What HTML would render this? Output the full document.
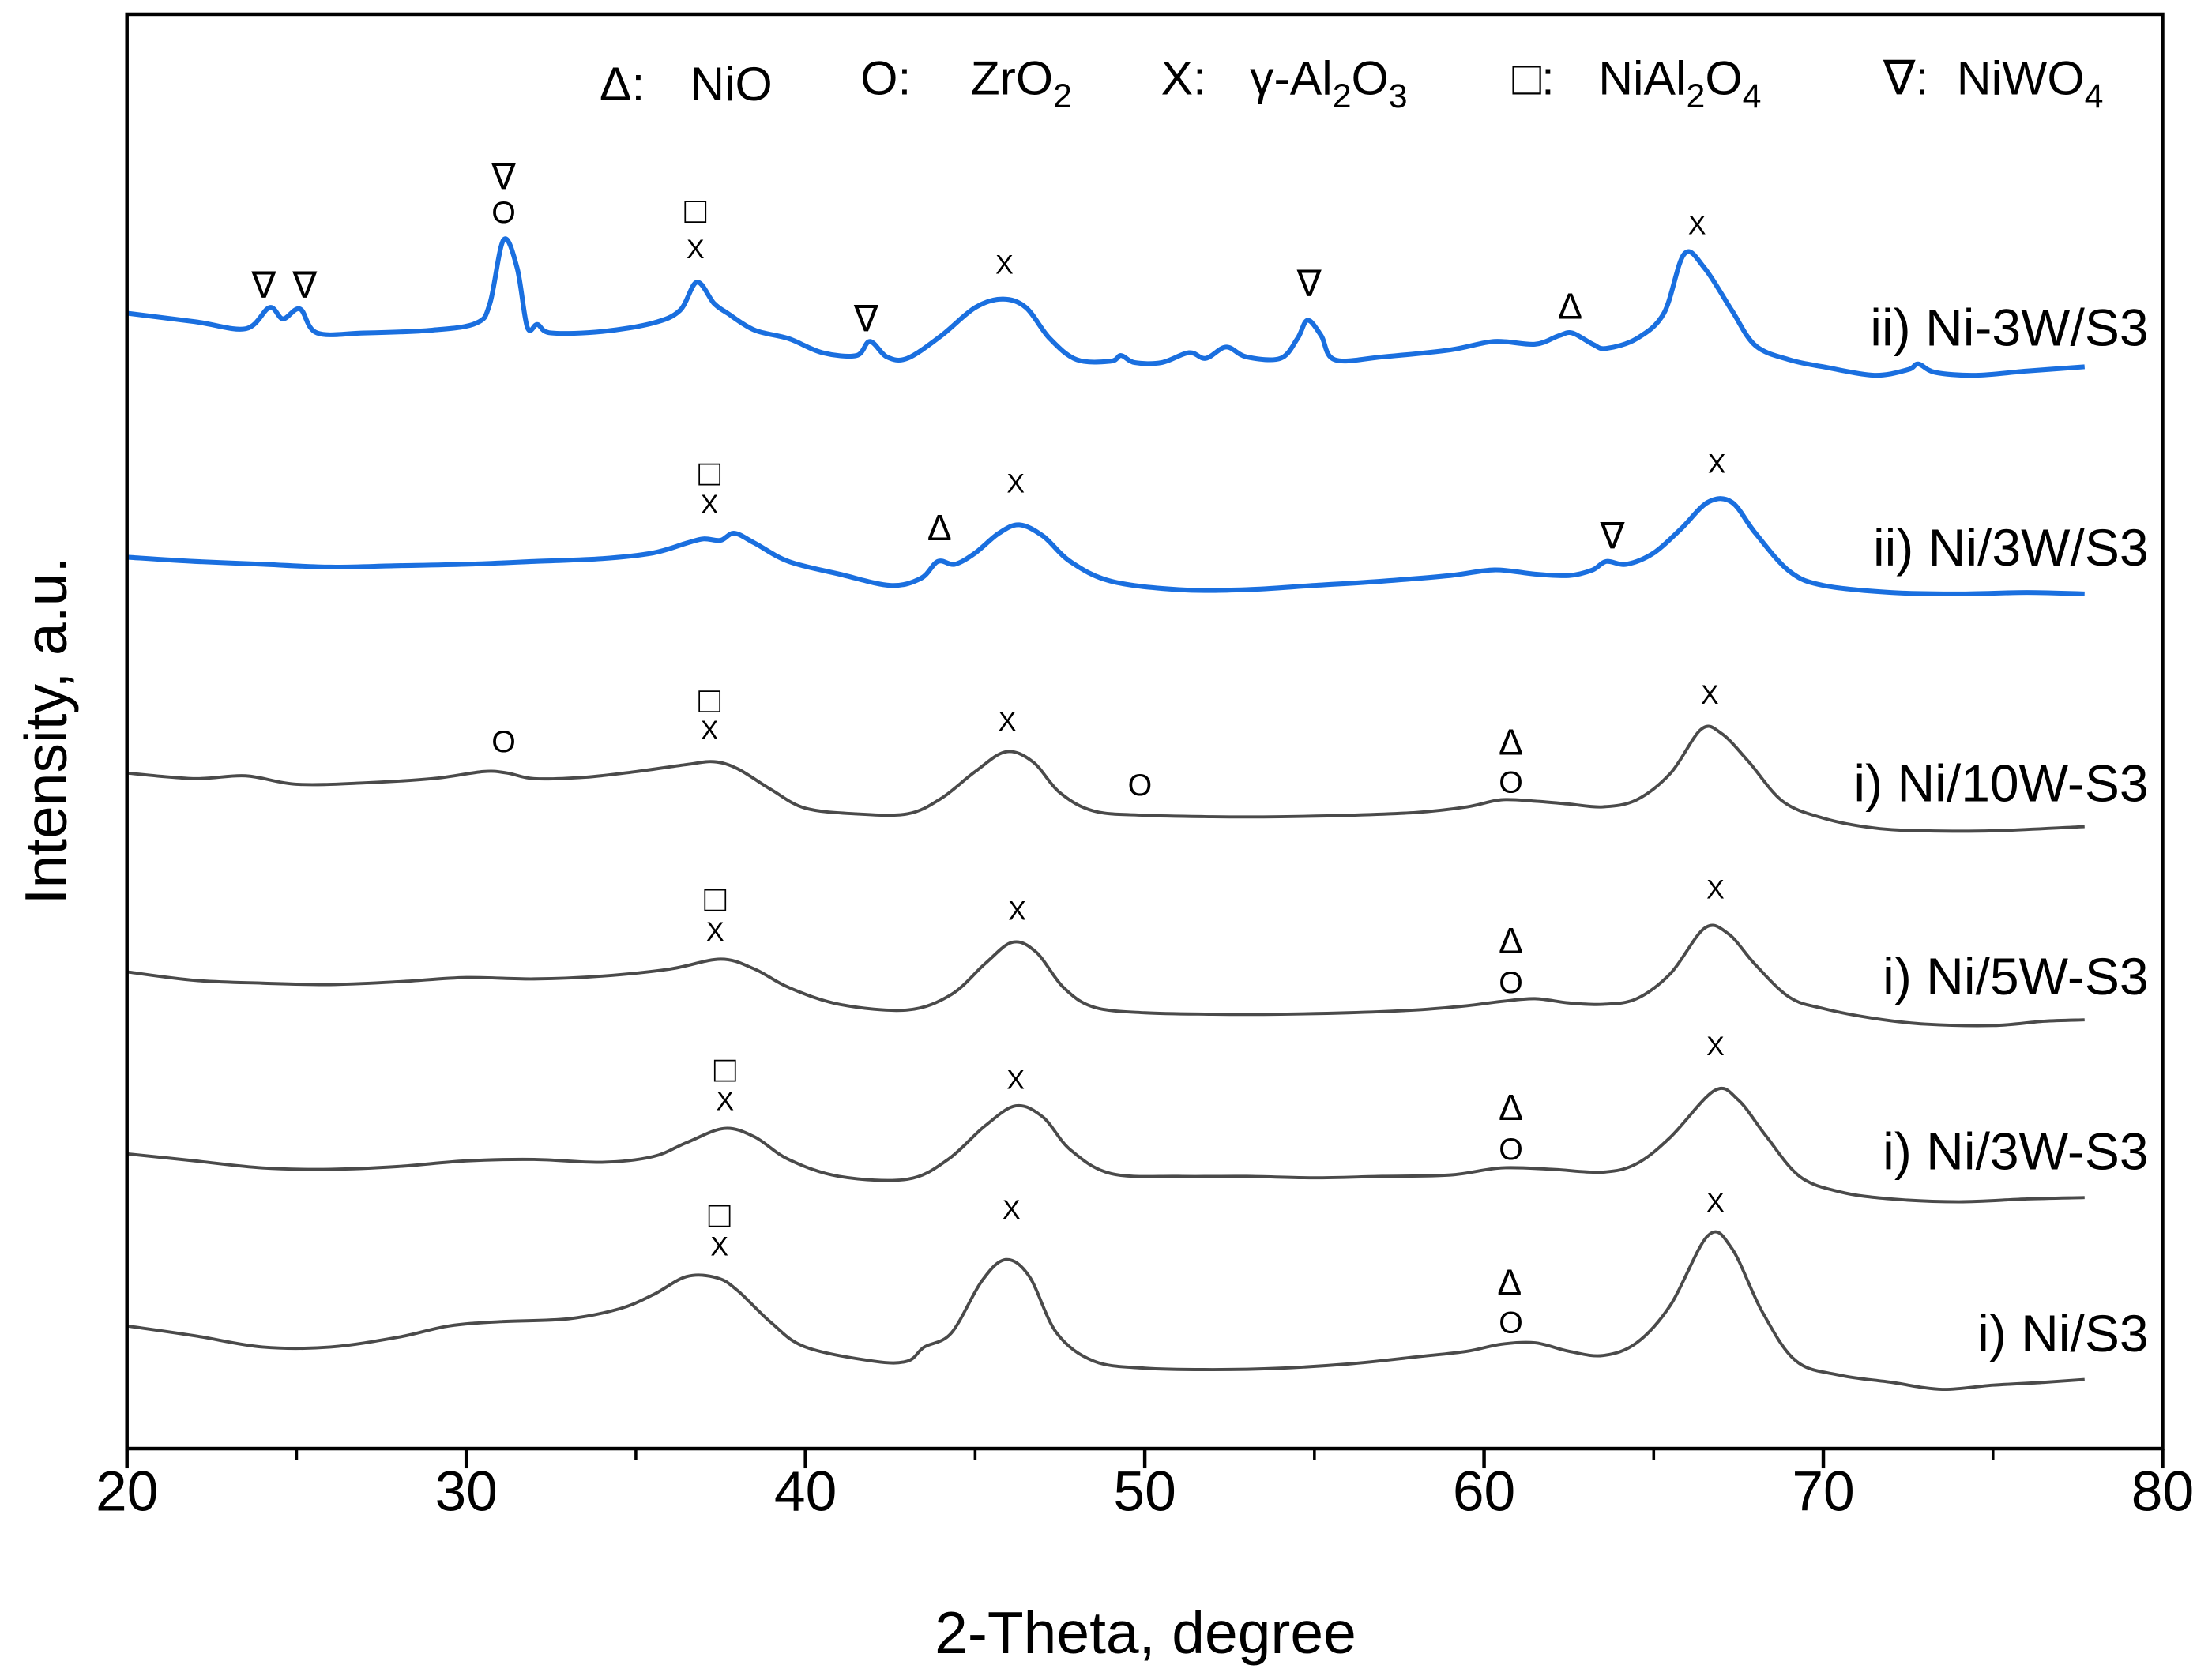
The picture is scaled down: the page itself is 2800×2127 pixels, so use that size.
<!DOCTYPE html>
<html><head><meta charset="utf-8"><style>
html,body{margin:0;padding:0;background:#fff;}
svg{display:block;}
text{font-family:"Liberation Sans","DejaVu Sans",sans-serif;fill:#000;}
</style></head><body>
<svg id="chart" width="2800" height="2127" viewBox="0 0 1568 1191" xmlns="http://www.w3.org/2000/svg">
<rect x="0" y="0" width="1568" height="1191" fill="#fff"/>
<g id="plot"></g>
</svg>
<script>
const xTicks = [20, 30, 40, 50, 60, 70, 80];
const xMinorTicks = [25, 35, 45, 55, 65, 75];
const seriesNames = ["ii) Ni-3W/S3", "ii) Ni/3W/S3", "i) Ni/10W-S3", "i) Ni/5W-S3", "i) Ni/3W-S3", "i) Ni/S3"];
const seriesColors = ["#1a6fdf", "#1a6fdf", "#4a4a4a", "#4a4a4a", "#4a4a4a", "#4a4a4a"];
const s1x = [20,22,23.5,24.2,24.6,25.1,25.6,27,29,30.3,30.7,31.1,31.5,31.8,32.1,32.5,34,35.5,36.3,36.8,37.3,37.7,38.5,39.5,40.5,41.5,41.9,42.4,43,44,45,45.8,46.5,47.2,48,49,49.3,49.7,50.5,51.3,51.8,52.4,53,54,54.5,54.8,55.2,55.6,57,59,60.3,61.5,62.2,62.6,63.2,63.6,64.5,65.3,65.9,66.5,67.3,68,69,70,71.5,72.5,72.8,73.3,74.5,76,77.7];
const s1y = [805,799,794,809,801,808,791,791,793,798,812,857,837,795,797,791,792,798,807,827,812,805,793,787,777,775,785,774,773,789,809,815,809,787,772,771,775,770,770,777,773,781,774,773,787,800,789,772,774,779,785,783,789,791,783,780,787,805,847,837,807,782,772,767,761,765,769,763,761,764,767];
const s2x = [20,22,24,26,28,30,32,34,35.5,36.5,37,37.5,37.9,38.5,39.5,41,42.5,43.4,43.9,44.4,45,45.7,46.3,47,47.8,49,51,53,55,57,59,60.3,61.5,62.5,63.2,63.6,64.2,65,65.8,66.6,67.3,68,69,70,72,74,76,77.7];
const s2y = [632,629,627,625,626,627,629,631,635,642,645,644,649,642,629,620,612,617,629,627,635,649,655,647,629,615,609,609,612,615,619,623,620,619,623,629,627,635,652,671,671,649,622,612,607,606,607,606];
const s3x = [20,22,23.5,25,27,29,30.5,31.2,32,33.5,35,36.5,37.3,38,39,40,41.5,43,44,45,45.9,46.7,47.5,48.5,50,52,54,56,58,59.5,60.5,61.5,62.5,63.5,64.5,65.5,66.4,67,67.8,68.8,70,71.5,73,75,77.7];
const s3y = [479,475,477,471,472,475,480,479,475,476,480,485,487,482,467,454,450,450,461,480,494,487,465,452,449,448,448,449,451,455,460,459,457,455,460,479,510,507,487,459,447,440,438,438,441];
const s4x = [20,22,24,26,28,30,32,34,36,37.5,38.5,39.5,41,43,44.3,45.3,46.1,46.8,47.6,48.5,50,52,54,56,58,59.5,60.5,61.5,62.5,63.5,64.5,65.5,66.5,67.2,68,69,70,71.5,73,75,76.5,77.7];
const s4y = [338,332,330,329,331,334,333,335,340,347,340,327,315,311,322,344,359,352,327,313,309,308,308,309,311,314,317,319,316,315,319,337,369,365,343,320,312,305,301,300,303,304];
const s5x = [20,22,24,26,28,30,32,34,35.5,36.5,37.6,38.5,39.5,41,43,44.2,45.3,46.2,47,47.8,49,51,53,55,57,59,60.5,62,63.5,64.5,65.5,66.8,67.5,68.3,69.3,70.5,72,74,76,77.7];
const s5y = [209,204,199,198,200,204,205,203,207,217,227,221,205,193,191,205,229,243,235,212,195,193,193,192,193,194,199,198,196,202,221,254,247,222,193,182,177,175,177,178];
const s6x = [20,22,24,26,28,29.5,31,33,34.5,35.5,36.5,37.4,38,39,40,42,43,43.5,44.3,45.2,45.9,46.6,47.4,48.5,50,52,54,56,58,59.5,60.5,61.5,62.5,63.5,64.5,65.5,66.6,67.3,68.2,69.2,70.5,72,73.5,75,76.5,77.7];
const s6y = [87,80,72,72,79,87,90,92,99,109,122,121,112,89,72,62,62,72,82,119,134,122,82,62,57,56,57,60,65,69,74,75,69,66,75,102,151,142,97,62,52,47,42,45,47,49];
const seriesX = [s1x, s2x, s3x, s4x, s5x, s6x];
const seriesY = [s1y, s2y, s3y, s4y, s5y, s6y];

const L = 90, R = 1533, T = 10, B = 1027;
function xs(t){ return L + (t - 20) / 60 * (R - L); }
function ys(v){ return B - v; }
const NS = "http://www.w3.org/2000/svg";
const g = document.getElementById("plot");
function mk(tag, attrs, parent){
  const e = document.createElementNS(NS, tag);
  for (const k in attrs) e.setAttribute(k, attrs[k]);
  (parent || g).appendChild(e);
  return e;
}
function smoothPath(pts){
  let d = "M" + pts[0][0].toFixed(1) + " " + pts[0][1].toFixed(1);
  for (let i = 0; i < pts.length - 1; i++) {
    const p0 = pts[i - 1] || pts[i], p1 = pts[i], p2 = pts[i + 1], p3 = pts[i + 2] || p2;
    const c1x = p1[0] + (p2[0] - p0[0]) / 6, c1y = p1[1] + (p2[1] - p0[1]) / 6;
    const c2x = p2[0] - (p3[0] - p1[0]) / 6, c2y = p2[1] - (p3[1] - p1[1]) / 6;
    d += " C" + c1x.toFixed(1) + " " + c1y.toFixed(1) + " " + c2x.toFixed(1) + " " + c2y.toFixed(1) + " " + p2[0].toFixed(1) + " " + p2[1].toFixed(1);
  }
  return d;
}

seriesX.forEach((xa, i) => {
  const pts = xa.map((t, j) => [xs(t), ys(seriesY[i][j])]);
  const p = mk("path", {d: smoothPath(pts), fill: "none", stroke: seriesColors[i], "stroke-width": i < 2 ? 3.4 : 2.2, "stroke-linejoin": "round"});
  
  
});

const fr = mk("rect", {x: L, y: T, width: R - L, height: B - T, fill: "none", stroke: "#000", "stroke-width": 2.5});



xTicks.forEach(t => {
  const ln = mk("line", {x1: xs(t), x2: xs(t), y1: B, y2: B + 14, stroke: "#000", "stroke-width": 2.5});
  
  
  const tx = mk("text", {x: xs(t), y: 1071, "text-anchor": "middle", "font-size": 40});
  tx.textContent = t;
  
  
});
xMinorTicks.forEach(t => {
  const ln = mk("line", {x1: xs(t), x2: xs(t), y1: B, y2: B + 8, stroke: "#000", "stroke-width": 2});
  
  
});

const xt = mk("text", {x: 812, y: 1172, "text-anchor": "middle", "font-size": 42});
xt.textContent = "2-Theta, degree";


const yt = mk("text", {x: 0, y: 0, "text-anchor": "middle", "font-size": 42, transform: "translate(47,518) rotate(-90)"});
yt.textContent = "Intensity, a.u.";



const labelY = [245, 401, 568, 705, 829, 958];
seriesNames.forEach((n, i) => {
  const tx = mk("text", {x: 1523, y: labelY[i], "text-anchor": "end", "font-size": 37});
  tx.textContent = n;
  
  
});
</script>
<svg style="position:absolute;left:0;top:0" width="2800" height="2127" viewBox="0 0 1568 1191">
<g font-size="34" font-family="Liberation Sans, DejaVu Sans, sans-serif">
<text y="71"><tspan x="425">Δ:</tspan><tspan x="489">NiO</tspan></text>
<text y="67"><tspan x="610">O:</tspan><tspan x="688">ZrO</tspan><tspan font-size="24" dy="9">2</tspan></text>
<text y="67"><tspan x="823">X:</tspan><tspan x="886">γ-Al</tspan><tspan font-size="24" dy="9">2</tspan><tspan dy="-9">O</tspan><tspan font-size="24" dy="9">3</tspan></text>
<text y="67"><tspan x="1072">□:</tspan><tspan x="1133">NiAl</tspan><tspan font-size="24" dy="9">2</tspan><tspan dy="-9">O</tspan><tspan font-size="24" dy="9">4</tspan></text>
<text y="67"><tspan x="1335">∇:</tspan><tspan x="1387">NiWO</tspan><tspan font-size="24" dy="9">4</tspan></text>
</g>
<g font-family="DejaVu Sans, sans-serif" text-anchor="middle" font-size="26">
<text x="187" y="211">∇</text><text x="216" y="211">∇</text><text x="357" y="134">∇</text><text x="357" y="158" font-size="22">O</text>
<text x="493" y="158">□</text><text x="493" y="183" font-size="19">X</text><text x="614" y="235">∇</text><text x="712" y="194" font-size="19">X</text>
<text x="928" y="210">∇</text><text x="1113" y="226">Δ</text><text x="1203" y="166" font-size="19">X</text>
<text x="503" y="344">□</text><text x="503" y="364" font-size="19">X</text><text x="666" y="383">Δ</text><text x="720" y="349" font-size="19">X</text>
<text x="1143" y="389">∇</text><text x="1217" y="335" font-size="19">X</text>
<text x="357" y="533" font-size="22">O</text><text x="503" y="505">□</text><text x="503" y="524" font-size="19">X</text><text x="714" y="518" font-size="19">X</text>
<text x="808" y="564" font-size="22">O</text><text x="1071" y="535">Δ</text><text x="1071" y="562" font-size="22">O</text><text x="1212" y="499" font-size="19">X</text>
<text x="507" y="646">□</text><text x="507" y="667" font-size="19">X</text><text x="721" y="652" font-size="19">X</text>
<text x="1071" y="676">Δ</text><text x="1071" y="704" font-size="22">O</text><text x="1216" y="637" font-size="19">X</text>
<text x="514" y="767">□</text><text x="514" y="787" font-size="19">X</text><text x="720" y="772" font-size="19">X</text>
<text x="1071" y="794">Δ</text><text x="1071" y="822" font-size="22">O</text><text x="1216" y="748" font-size="19">X</text>
<text x="510" y="870">□</text><text x="510" y="890" font-size="19">X</text><text x="717" y="864" font-size="19">X</text>
<text x="1070" y="918">Δ</text><text x="1071" y="945" font-size="22">O</text><text x="1216" y="859" font-size="19">X</text>
</g>
</svg>
</body></html>
